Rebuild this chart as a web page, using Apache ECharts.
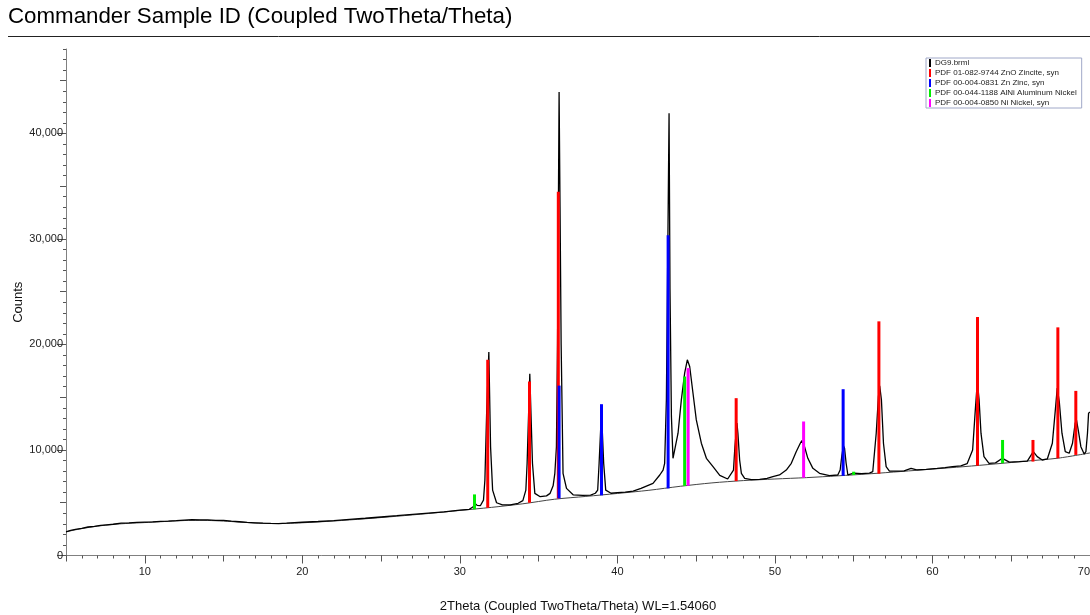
<!DOCTYPE html>
<html>
<head>
<meta charset="utf-8">
<script src="https://cdn.jsdelivr.net/npm/echarts@6/dist/echarts.min.js"></script>
<style>
html,body{margin:0;padding:0;background:#fff;}
#chart{width:1090px;height:615px;}
</style>
</head>
<body>
<div id="chart"></div>
<script>
// ---- Data ----
const chartTitle = 'Commander Sample ID (Coupled TwoTheta/Theta)';
const xAxisTitle = '2Theta (Coupled TwoTheta/Theta) WL=1.54060';
const yAxisTitle = 'Counts';
const xLabelValues = [10, 20, 30, 40, 50, 60, 70];
const xMidTickValues = [5, 15, 25, 35, 45, 55, 65];
const yLabelValues = [0, 10000, 20000, 30000, 40000];
const yMidTickValues = [5000, 15000, 25000, 35000, 45000];

const seriesNames = ['DG9.brml', 'PDF 01-082-9744 ZnO Zincite, syn', 'PDF 00-004-0831 Zn Zinc, syn', 'PDF 00-044-1188 AlNi Aluminum Nickel', 'PDF 00-004-0850 Ni Nickel, syn'];

// measured scan [2theta, counts]
const dg9Scan = [
  [5.0,2250],[5.3,2380],[5.6,2470],[6.0,2580],[6.4,2700],[6.8,2760],[7.2,2850],[7.6,2910],[8.0,2960],[8.5,3060],[9.0,3090],[9.5,3130],
  [10.0,3170],[10.5,3180],[11.0,3230],[11.5,3260],[12.0,3300],[12.5,3360],[13.0,3400],[13.5,3380],[14.0,3370],[14.5,3330],[15.0,3320],
  [15.5,3250],[16.0,3200],[16.5,3140],[17.0,3100],[17.5,3060],[18.0,3040],[18.5,3030],[19.0,3060],[19.5,3110],[20.0,3150],[21.0,3220],
  [22.0,3310],[23.0,3420],[24.0,3530],[25.0,3650],[26.0,3770],[27.0,3900],[28.0,4020],[29.0,4140],[30.0,4300],[30.6,4380],[30.85,4620],
  [30.95,4950],[31.1,4750],[31.3,4720],[31.5,5250],[31.59,7150],[31.70,13490],[31.84,19280],[31.95,10300],[32.08,6200],[32.33,5000],
  [32.7,4800],[33.2,4800],[33.7,4950],[34.0,5200],[34.19,6200],[34.27,8740],[34.44,17220],[34.61,8740],[34.76,5890],[35.1,5570],
  [35.5,5650],[35.73,5890],[35.92,6600],[36.03,7790],[36.13,10300],[36.2,20000],[36.30,43930],[36.36,33000],[36.43,20000],[36.55,7790],
  [36.77,6360],[37.19,5750],[37.8,5700],[38.3,5720],[38.6,5900],[38.75,6200],[38.84,8740],[38.99,13640],[39.13,8740],[39.26,6200],
  [39.6,5900],[40.0,5950],[40.5,6000],[41.0,6100],[41.5,6360],[42.26,6840],[42.69,7630],[42.9,8100],[43.0,8740],[43.11,14750],
  [43.21,30580],[43.28,41900],[43.34,25200],[43.43,13160],[43.53,9210],[43.57,9120],[43.85,11590],[44.06,14750],[44.27,17280],
  [44.44,18550],[44.59,17910],[44.80,15380],[45.01,12850],[45.33,10640],[45.65,9210],[46.07,8420],[46.5,7600],[47.0,7250],[47.37,8100],
  [47.46,10310],[47.59,12540],[47.65,11590],[47.76,9050],[47.87,7790],[48.08,7310],[48.5,7200],[49.03,7220],[49.5,7300],[49.87,7470],
  [50.29,7630],[50.72,8100],[51.04,8740],[51.35,9840],[51.61,10640],[51.71,10880],[51.88,10310],[52.09,9210],[52.41,8260],[52.83,7790],
  [53.46,7560],[53.99,7630],[54.14,8100],[54.25,9500],[54.35,10400],[54.42,10160],[54.52,8740],[54.63,7630],[55.0,7800],[55.5,7750],
  [56.0,7800],[56.21,7940],[56.43,11590],[56.57,15060],[56.65,16080],[56.76,14750],[56.89,10640],[57.06,8420],[57.27,8000],[57.8,8000],
  [58.2,8020],[58.64,8260],[59.0,8120],[59.6,8170],[60.3,8260],[60.8,8330],[61.27,8420],[61.8,8500],[62.2,8700],[62.55,10000],
  [62.72,13800],[62.85,16490],[62.96,14750],[63.08,11590],[63.27,9370],[63.59,8740],[64.0,8780],[64.44,9210],[64.88,8850],[65.51,8900],
  [66.02,8950],[66.4,9840],[66.65,9370],[66.97,9050],[67.29,9150],[67.61,10640],[67.80,13800],[67.92,15860],[68.05,14590],[68.22,11590],
  [68.43,9840],[68.68,9690],[68.89,10640],[69.06,12540],[69.14,12850],[69.27,11740],[69.42,10310],[69.63,9620],[69.74,9840],[69.84,11590],
  [69.91,13490],[70.0,13600]
];

// fitted background [2theta, counts]
const backgroundCurve = [
  [5,2250],[6,2550],[7,2780],[8,2950],[9,3050],[10,3120],[11,3200],[12,3280],[13,3330],[14,3320],[15,3260],[16,3170],[17,3080],
  [18,3030],[19,3040],[20,3100],[22,3270],[24,3480],[26,3720],[28,3980],[30,4270],[32,4560],[34,4900],[36,5330],[38,5600],[40,5880],
  [42,6180],[44,6560],[46,6880],[48,7100],[50,7250],[52,7380],[54,7550],[56,7740],[58,7960],[60,8190],[62,8420],[64,8680],[66,8950],
  [68,9230],[70,9720]
];

// reference sticks [2theta, base (background), top]
const zinciteSticks = [[31.77,4520,18550],[34.42,5000,16490],[36.25,5410,34470],[47.54,7050,14910],[56.60,7750,22190],[62.86,8510,22600],[66.38,8900,10950],[67.96,9210,21620],[69.10,9530,15600]];
const zincSticks = [[36.30,5410,16100],[38.99,5700,14340],[43.22,6360,30350],[54.33,7550,15760]];
const alniSticks = [[30.93,4370,5790],[44.27,6600,16960],[55.00,7630,7940],[64.45,8750,10950]];
const nickelSticks = [[44.49,6610,17760],[51.82,7370,12700]];

const stickColors = ['#ff0000', '#0000ff', '#00ee00', '#ff00ff'];

// ---- Chart ----
const chart = echarts.init(document.getElementById('chart'), null, {renderer: 'canvas'});
const fontFam = '"Liberation Sans", Arial, sans-serif';

function stickRender(params, api) {
  const x = api.value(0), base = api.value(1), top = api.value(2);
  const p0 = api.coord([x, base]);
  const p1 = api.coord([x, top]);
  return {
    type: 'rect',
    shape: {x: p0[0] - 1.5, y: p1[1], width: 3, height: p0[1] - p1[1]},
    style: {fill: api.visual('color')}
  };
}

function stickSeries(name, data, color) {
  return {
    name: name, type: 'custom', renderItem: stickRender, data: data,
    dimensions: ['x', 'base', 'top'], encode: {x: 0, y: [1, 2]},
    itemStyle: {color: color}, z: 4, silent: true
  };
}

const axisGrey = '#808080';
const tickColor = '#555';
const fmt = v => Number(v).toLocaleString('en-US');

const baseX = {type: 'value', min: 5, max: 70, gridIndex: 0, position: 'bottom', offset: 0, splitLine: {show: false}};
const baseY = {type: 'value', min: 0, max: 48000, gridIndex: 0, position: 'left', offset: 0, splitLine: {show: false}};

const option = {
  animation: false,
  backgroundColor: '#ffffff',
  grid: {left: 66, right: 0, top: 49, bottom: 59.5, containLabel: false, outerBoundsMode: 'none'},
  legend: {
    data: seriesNames,
    orient: 'vertical',
    left: 926, top: 58,
    icon: 'rect',
    itemWidth: 2, itemHeight: 8, itemGap: 2,
    padding: [1, 5, 1, 3],
    borderColor: '#a0a8c8', borderWidth: 1, backgroundColor: '#ffffff',
    textStyle: {fontSize: 8, color: '#222', fontFamily: fontFam, padding: [0, 0, 0, -1]},
    selectedMode: false
  },
  xAxis: [
    Object.assign({}, baseX, {
      interval: 1,
      axisLine: {show: true, lineStyle: {color: axisGrey, width: 1}},
      axisTick: {show: true, inside: false, length: 3, lineStyle: {color: tickColor}},
      axisLabel: {show: false},
      name: xAxisTitle, nameLocation: 'middle', nameGap: 44,
      nameTextStyle: {fontSize: 13, color: '#111', fontFamily: fontFam}
    }),
    Object.assign({}, baseX, {
      axisLine: {show: false},
      axisTick: {show: true, inside: false, length: 6, customValues: xMidTickValues, lineStyle: {color: tickColor}},
      axisLabel: {show: false}
    }),
    Object.assign({}, baseX, {
      axisLine: {show: false},
      axisTick: {show: true, inside: false, length: 8, customValues: xLabelValues, lineStyle: {color: tickColor}},
      axisLabel: {show: true, customValues: xLabelValues, fontSize: 11, color: '#222', fontFamily: fontFam, margin: 11, alignMaxLabel: 'right'}
    })
  ],
  yAxis: [
    Object.assign({}, baseY, {
      interval: 1000,
      axisLine: {show: true, lineStyle: {color: axisGrey, width: 1}},
      axisTick: {show: true, inside: false, length: 3, lineStyle: {color: tickColor}},
      axisLabel: {show: false},
      name: yAxisTitle, nameLocation: 'middle', nameGap: 41, nameRotate: 90,
      nameTextStyle: {fontSize: 13, color: '#111', fontFamily: fontFam}
    }),
    Object.assign({}, baseY, {
      axisLine: {show: false},
      axisTick: {show: true, inside: false, length: 6, customValues: yMidTickValues, lineStyle: {color: tickColor}},
      axisLabel: {show: false}
    }),
    Object.assign({}, baseY, {
      axisLine: {show: false},
      axisTick: {show: true, inside: false, length: 9, customValues: yLabelValues, lineStyle: {color: tickColor}},
      axisLabel: {show: true, customValues: yLabelValues, formatter: fmt, fontSize: 11, color: '#222', fontFamily: fontFam, margin: 3}
    })
  ],
  graphic: [
    {type: 'text', left: 8, top: 6, style: {text: chartTitle, font: '22.3px ' + fontFam, fill: '#000'}},
    {type: 'line', shape: {x1: 8, y1: 36.5, x2: 1090, y2: 36.5}, style: {stroke: '#222', lineWidth: 1}}
  ],
  series: [
    {
      name: seriesNames[0], type: 'line', data: dg9Scan, showSymbol: false, symbol: 'none',
      lineStyle: {color: '#000', width: 1.3}, itemStyle: {color: '#000'}, z: 3, silent: true
    },
    {
      name: 'Background', type: 'line', data: backgroundCurve, showSymbol: false, symbol: 'none', smooth: 0.3,
      lineStyle: {color: '#444', width: 1}, itemStyle: {color: '#444'}, z: 2, silent: true
    },
    stickSeries(seriesNames[1], zinciteSticks, stickColors[0]),
    stickSeries(seriesNames[2], zincSticks, stickColors[1]),
    stickSeries(seriesNames[3], alniSticks, stickColors[2]),
    stickSeries(seriesNames[4], nickelSticks, stickColors[3])
  ]
};
chart.setOption(option);
</script>
</body>
</html>
